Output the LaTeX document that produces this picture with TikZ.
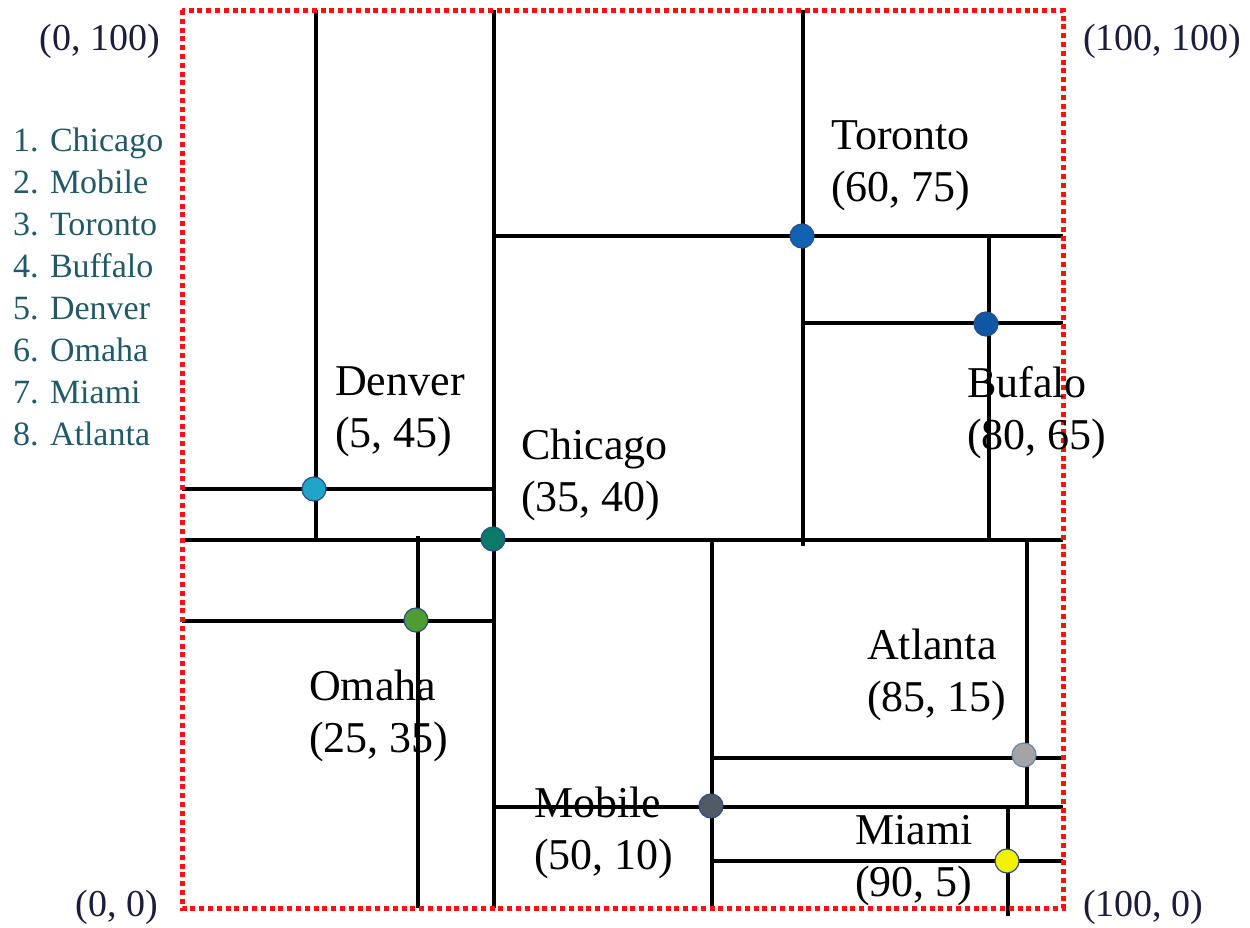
\documentclass[tikz,border=0pt]{standalone}
\usepackage{fontspec}
\setmainfont{Liberation Serif}
\definecolor{legendc}{HTML}{215968}
\definecolor{cornerc}{HTML}{1C1C3C}
\definecolor{dotred}{HTML}{FF1010}
\definecolor{cDenver}{HTML}{20A4C8}
\definecolor{cChicago}{HTML}{0B7A68}
\definecolor{cOmaha}{HTML}{4E9C32}
\definecolor{cToronto}{HTML}{1262B2}
\definecolor{cBuffalo}{HTML}{0F56A4}
\definecolor{cMobile}{HTML}{525A66}
\definecolor{cAtlanta}{HTML}{A4A4A4}
\definecolor{cMiami}{HTML}{F2F200}
\definecolor{ring}{HTML}{2A4E8A}
\tikzset{
  part/.style={line width=3.6pt, black},
  border/.style={dotred, line width=5pt, dash pattern=on 5pt off 3.8pt},
  city/.style={circle, minimum size=24pt, inner sep=0pt, draw=ring, line width=1.2pt},
  lbl/.style={font=\fontsize{44}{52}\selectfont, align=left, anchor=west, inner sep=0pt},
  corner/.style={font=\fontsize{38}{44}\selectfont, text=cornerc, inner sep=0pt},
  legend/.style={font=\fontsize{34}{42}\selectfont, text=legendc, align=left, anchor=north west, inner sep=0pt}
}
\begin{document}
\begin{tikzpicture}[x=1pt,y=-1pt]
\useasboundingbox (0,0) rectangle (1250,927);
% partition lines
\draw[part] (316,10) -- (316,540);
\draw[part] (494,10) -- (494,908);
\draw[part] (182,540) -- (1063,540);
\draw[part] (182,489) -- (494,489);
\draw[part] (418,536) -- (418,908);
\draw[part] (182,621) -- (494,621);
\draw[part] (803,10) -- (803,546);
\draw[part] (494,236) -- (1063,236);
\draw[part] (803,323) -- (1063,323);
\draw[part] (989,236) -- (989,540);
\draw[part] (712,540) -- (712,908);
\draw[part] (494,807) -- (1063,807);
\draw[part] (712,758) -- (1063,758);
\draw[part] (1027,540) -- (1027,807);
\draw[part] (1008,807) -- (1008,916);
\draw[part] (712,861) -- (1063,861);
% border
\draw[border] (182,10) rectangle (1063,908);
% cities
\node[city, fill=cDenver] (denver) at (314,489) {};
\node[city, fill=cChicago] (chicago) at (493,539) {};
\node[city, fill=cOmaha] (omaha) at (416,620) {};
\node[city, fill=cToronto] (toronto) at (802,236) {};
\node[city, fill=cBuffalo] (buffalo) at (986,324) {};
\node[city, fill=cMobile] (mobile) at (711,806) {};
\node[city, fill=cAtlanta, draw=ring!70] (atlanta) at (1024,755) {};
\node[city, fill=cMiami] (miami) at (1007,861) {};
% labels
\node[lbl] (tToronto) at (831,166) {Toronto\\(60, 75)};
\node[lbl] (tDenver) at (335,412) {Denver\\(5, 45)};
\node[lbl] (tChicago) at (521,475) {Chicago\\(35, 40)};
\node[lbl] (tBuffalo) at (967,413) {Bufalo\\(80, 65)};
\node[lbl] (tAtlanta) at (867,675) {Atlanta\\(85, 15)};
\node[lbl] (tOmaha) at (309,716) {Omaha\\(25, 35)};
\node[lbl] (tMobile) at (534,833) {Mobile\\(50, 10)};
\node[lbl] (tMiami) at (855,861) {Miami\\(90, 5)};
% corners
\node[corner, anchor=east] (c00) at (158,907) {(0, 0)};
\node[corner, anchor=east] (c0h) at (160,41) {(0, 100)};
\node[corner, anchor=west] (chh) at (1083,41) {(100, 100)};
\node[corner, anchor=west] (ch0) at (1083,907) {(100, 0)};
% legend
\node[legend] (leg) at (13,128) {1. Chicago\\2. Mobile\\3. Toronto\\4. Buffalo\\5. Denver\\6. Omaha\\7. Miami\\8. Atlanta};
\end{tikzpicture}
\end{document}
